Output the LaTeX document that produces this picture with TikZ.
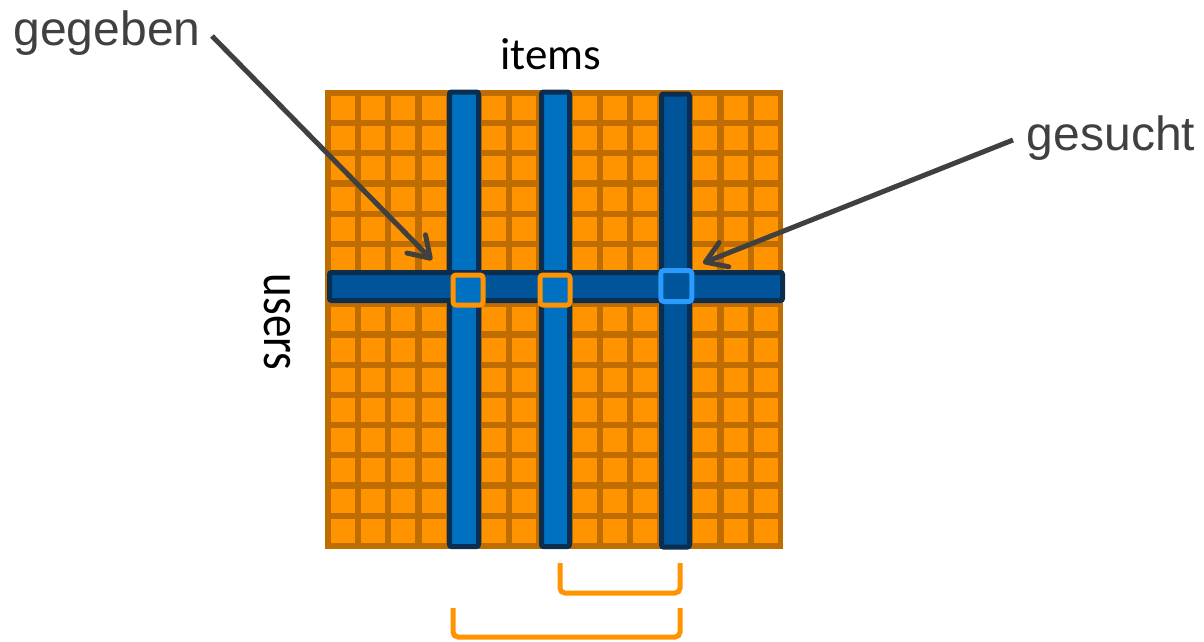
\documentclass[tikz,border=0pt]{standalone}
\usepackage{fontspec}
\setmainfont{Liberation Sans}
\newfontfamily\axisfont{Carlito}
\usetikzlibrary{arrows.meta}
\definecolor{gridbg}{HTML}{BF6D00}
\definecolor{cellor}{HTML}{FF9300}
\definecolor{barblue}{HTML}{0070C0}
\definecolor{bardark}{HTML}{00559A}
\definecolor{barline}{HTML}{0B2E50}
\definecolor{hitblue}{HTML}{2A9BFF}
\definecolor{arrowgray}{HTML}{404040}
\begin{document}
\begin{tikzpicture}[x=1pt,y=-1pt,
  cell/.style={fill=cellor},
  bar/.style={draw=barline, line width=5pt, rounded corners=2pt},
  hit/.style={line width=5pt, rounded corners=3pt, inner sep=0pt, outer sep=0pt},
  pointer/.style={draw=arrowgray, line width=5pt,
    -{Straight Barb[length=20pt,width=26pt,round]}},
  bracket/.style={draw=cellor, line width=5pt, rounded corners=5pt},
  label/.style={text=arrowgray, font=\fontsize{48}{56}\selectfont, inner sep=0pt, anchor=base},
  axis/.style={text=black, font=\axisfont\fontsize{45}{52}\selectfont, inner sep=0pt}
]
\useasboundingbox (0,0) rectangle (1204,641);

% rating matrix: 15 x 15 cells
\fill[gridbg] (325,90) rectangle (783,549);
\foreach \i in {0,...,14}
  \foreach \j in {0,...,14}
    \fill[cell] ({331+30.2*\i},{96+30.2*\j}) rectangle ++(24,24);

% item columns
\draw[bar, fill=barblue] (449.5,92) rectangle (478.5,546.5);
\draw[bar, fill=barblue] (541.5,92) rectangle (569.5,546.5);
\draw[bar, fill=bardark] (661.5,94) rectangle (689.5,547);

% user row
\draw[bar, fill=bardark] (329.5,272.5) rectangle (782.5,300.5);

% entries of the user row
\node[hit, draw=cellor, fill=barblue, minimum size=30pt] (knownA) at (468,290) {};
\node[hit, draw=cellor, fill=barblue, minimum size=30pt] (knownB) at (555,290) {};
\node[hit, draw=hitblue, fill=bardark, minimum size=31pt] (wanted) at (676.3,286) {};

% labels
\node[label] (given) at (107,45) {gegeben};
\node[label] (sought) at (1111,150) {gesucht};
\node[axis, anchor=base] (items) at (551,69) {items};
\node[axis, rotate=-90, yscale=1.2] (users) at (277,322) {users};

% pointers
\coordinate (givenfrom) at (212,36);
\coordinate (giventip) at (432,260);
\coordinate (soughtfrom) at (1013,140);
\coordinate (soughttip) at (703,263);
\draw[pointer] (givenfrom) -- (giventip);
\draw[pointer] (soughtfrom) -- (soughttip);

% brackets below the columns
\draw[bracket] (560,563) -- (560,593) -- (680,593) -- (680,563);
\draw[bracket] (453,608) -- (453,637) -- (680,637) -- (680,608);
\end{tikzpicture}
\end{document}
